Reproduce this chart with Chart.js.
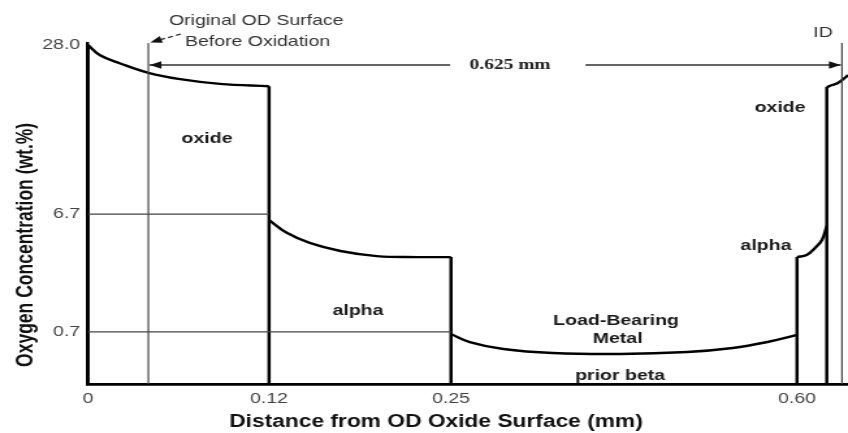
<!DOCTYPE html>
<html>
<head>
<meta charset="utf-8">
<title>Oxygen concentration profile across the cladding wall</title>
<script src="https://cdn.jsdelivr.net/npm/chart.js@4/dist/chart.umd.min.js"></script>
<style>
  html, body { margin: 0; padding: 0; background: #fff; }
</style>
</head>
<body>
<!-- the drawing is made at a narrower width and shown widened -->
<canvas id="profile" width="652" height="433" style="display:block;width:848px;height:433px"></canvas>
<script>
// ---- tick marks -------------------------------------------------------
const xTicks = [0, 0.12, 0.25, 0.60];
const xTickLabels = ['0', '0.12', '0.25', '0.60'];
const yTicks = [0.7, 6.7, 28.0];
const yTickLabels = ['0.7', '6.7', '28.0'];

// ---- oxygen profile (distance in mm, oxygen in wt.%) ------------------
// outer (OD) oxide layer
const odOxideX = [0, 0.008, 0.021, 0.040, 0.061, 0.0875, 0.12];
const odOxideY = [28.0, 26.7, 25.7, 24.5, 23.7, 23.1, 22.8];
// outer oxygen-stabilised alpha layer
const odAlphaX = [0.12, 0.133, 0.149, 0.171, 0.197, 0.226, 0.25];
const odAlphaY = [6.39, 5.73, 5.23, 4.82, 4.56, 4.51, 4.51];
// load-bearing prior-beta metal
const metalX = [0.25, 0.269, 0.303, 0.353, 0.421, 0.489, 0.535, 0.570, 0.60];
const metalY = [0.673, 0.565, 0.471, 0.417, 0.404, 0.431, 0.485, 0.565, 0.66];
// inner alpha layer
const idAlphaX = [0.60, 0.614, 0.626, 0.636, 0.643];
const idAlphaY = [4.51, 4.62, 4.97, 5.38, 6.09];
// inner (ID) oxide layer
const idOxideX = [0.643, 0.651, 0.659, 0.669, 0.674];
const idOxideY = [22.7, 22.96, 23.21, 23.84, 24.22];

// layer boundaries and the profile value reached at each one
const boundaryX = [0, 0.12, 0.25, 0.60, 0.643];
const boundaryTop = [28.0, 22.8, 4.51, 4.51, 22.7];

// reference surfaces (mm)
const odOriginalSurface = 0.04;
const idSurface = 0.665;
const wallThicknessLabel = '0.625 mm';

// region names: [text, distance, oxygen]
const regionNames = [
  ['oxide', 0.0789, 16.15],
  ['alpha', 0.1836, 1.77],
  ['Load-Bearing', 0.4170, 1.26],
  ['Metal', 0.4186, 0.606],
  ['prior beta', 0.421, 0.108],
  ['oxide', 0.5828, 20.06],
  ['alpha', 0.5686, 5.07]
];

// ---- segmented axes: each span between breaks gets its own share ------
const axisBreaks = {
  x: { values: [0, 0.12, 0.25, 0.60, 0.665, 0.674],
       fractions: [0, 0.2382, 0.4776, 0.9329, 0.9921, 1], ticks: xTicks },
  y: { values: [0, 0.7, 6.7, 28.0, 28.25],
       fractions: [0, 0.1525, 0.4985, 0.9941, 1], ticks: yTicks }
};

function piecewise(v, from, to) {
  let i = 1;
  while (i < from.length - 1 && v > from[i]) i++;
  const f0 = from[i - 1], f1 = from[i];
  return to[i - 1] + (v - f0) / (f1 - f0) * (to[i] - to[i - 1]);
}

class SegmentedScale extends Chart.LinearScale {
  static id = 'segmented';
  determineDataLimits() {
    const m = axisBreaks[this.id];
    this.min = m.values[0];
    this.max = m.values[m.values.length - 1];
  }
  buildTicks() {
    return axisBreaks[this.id].ticks.map(value => ({ value }));
  }
  getPixelForValue(value) {
    if (value === null || value === undefined || isNaN(value)) return NaN;
    const m = axisBreaks[this.id];
    return this.getPixelForDecimal(piecewise(value, m.values, m.fractions));
  }
  getValueForPixel(pixel) {
    const m = axisBreaks[this.id];
    return piecewise(this.getDecimalForPixel(pixel), m.fractions, m.values);
  }
}
Chart.register(SegmentedScale);

// ---- datasets ---------------------------------------------------------
const zip = (xs, ys) => xs.map((x, i) => ({ x, y: ys[i] }));
const curve = (xs, ys) => ({
  data: zip(xs, ys), borderColor: '#000', borderWidth: 2.4,
  tension: 0.4, pointRadius: 0
});
const straight = (pts, color, width) => ({
  data: pts, borderColor: color, borderWidth: width, tension: 0, pointRadius: 0
});

const datasets = [
  // thin guide lines
  straight([{ x: 0, y: yTicks[1] }, { x: xTicks[1], y: yTicks[1] }], '#444', 1.25),
  straight([{ x: 0, y: yTicks[0] }, { x: xTicks[2], y: yTicks[0] }], '#444', 1.25),
  straight([{ x: odOriginalSurface, y: 0 }, { x: odOriginalSurface, y: 28.25 }], '#444', 1.2),
  straight([{ x: idSurface, y: 0 }, { x: idSurface, y: 28.25 }], '#444', 1.2),
  // profile
  curve(odOxideX, odOxideY),
  curve(odAlphaX, odAlphaY),
  curve(metalX, metalY),
  curve(idAlphaX, idAlphaY),
  curve(idOxideX, idOxideY),
  ...boundaryX.map((bx, i) =>
    straight([{ x: bx, y: 0 }, { x: bx, y: boundaryTop[i] }], '#000', 2.5))
];

// ---- labels, dimension line and axis titles ---------------------------
const SANS = '"Liberation Sans", Arial, Helvetica, sans-serif';
const SERIF = '"Liberation Serif", "Times New Roman", serif';

function arrowHead(ctx, tipX, tipY, fromX, fromY, len, half) {
  const ang = Math.atan2(tipY - fromY, tipX - fromX);
  ctx.beginPath();
  ctx.moveTo(tipX, tipY);
  ctx.lineTo(tipX - len * Math.cos(ang) + half * Math.sin(ang),
             tipY - len * Math.sin(ang) - half * Math.cos(ang));
  ctx.lineTo(tipX - len * Math.cos(ang) - half * Math.sin(ang),
             tipY - len * Math.sin(ang) + half * Math.cos(ang));
  ctx.closePath();
  ctx.fill();
}

const annotate = {
  id: 'annotate',
  afterDraw(chart) {
    const { ctx, chartArea: a, scales: { x, y } } = chart;
    ctx.save();
    ctx.textAlign = 'center';
    ctx.textBaseline = 'middle';

    // region names
    ctx.fillStyle = '#1a1a1a';
    ctx.font = 'bold 15px ' + SANS;
    regionNames.forEach(([t, vx, vy]) => ctx.fillText(t, x.getPixelForValue(vx), y.getPixelForValue(vy)));

    // original OD surface note with its leader
    const xod = x.getPixelForValue(odOriginalSurface);
    const xid = x.getPixelForValue(idSurface);
    ctx.font = '15px ' + SANS;
    ctx.fillStyle = '#333';
    const noteX = x.getPixelForValue(0.1115);
    ctx.fillText('Original OD Surface', noteX, a.top - 22);
    ctx.fillText('Before Oxidation', noteX + 1, a.top - 1);
    ctx.fillText('ID', x.getPixelForValue(0.6376), a.top - 10);

    ctx.fillStyle = '#111';
    ctx.strokeStyle = '#222';
    const tipX = xod + 1.5, tipY = a.top - 0.5, tailX = xod + 25, tailY = a.top - 9;
    arrowHead(ctx, tipX, tipY, tailX, tailY, 9, 3.6);
    ctx.lineWidth = 1.2;
    ctx.setLineDash([4, 2.5]);
    ctx.beginPath();
    ctx.moveTo(tipX + 8 * 0.94, tipY - 8 * 0.34);
    ctx.lineTo(tailX, tailY);
    ctx.stroke();
    ctx.setLineDash([]);

    // wall thickness dimension line
    const dimY = a.top + 22;
    const textX = x.getPixelForValue(0.3097);
    ctx.strokeStyle = '#333';
    ctx.lineWidth = 1.5;
    ctx.beginPath();
    ctx.moveTo(xod + 1, dimY); ctx.lineTo(textX - 46, dimY);
    ctx.moveTo(textX + 58, dimY); ctx.lineTo(xid - 1, dimY);
    ctx.stroke();
    ctx.fillStyle = '#111';
    arrowHead(ctx, xod + 1, dimY, xod + 20, dimY, 9, 3.8);
    arrowHead(ctx, xid - 1, dimY, xid - 20, dimY, 9, 3.8);
    ctx.font = 'bold 15px ' + SERIF;
    ctx.fillStyle = '#222';
    ctx.fillText(wallThicknessLabel, textX, dimY);

    // axis titles
    ctx.fillStyle = '#111';
    ctx.font = 'bold 17.5px ' + SANS;
    ctx.fillText('Distance from OD Oxide Surface (mm)', (a.left + a.right) / 2 - 24.6, 422);
    ctx.save();
    ctx.translate(a.left - 47.7, a.top + 0.592 * (a.bottom - a.top));
    ctx.rotate(-Math.PI / 2);
    ctx.fillText('Oxygen Concentration (wt.%)', 0, 0);
    ctx.restore();

    ctx.restore();
  }
};

Chart.defaults.font.family = SANS;

new Chart(document.getElementById('profile'), {
  type: 'line',
  data: { datasets },
  options: {
    responsive: false,
    maintainAspectRatio: false,
    devicePixelRatio: 1,
    animation: false,
    events: [],
    layout: { padding: { top: 43, right: 0, bottom: 0, left: 0 } },
    plugins: { legend: { display: false }, tooltip: { enabled: false } },
    elements: { line: { borderCapStyle: 'butt', borderJoinStyle: 'miter' } },
    scales: {
      x: {
        type: 'segmented',
        position: 'bottom',
        grid: { display: false, drawTicks: false },
        border: { display: true, color: '#000', width: 2.7 },
        ticks: {
          autoSkip: false, maxRotation: 0, padding: 6,
          color: '#444', font: { size: 15 },
          callback: (v, i) => xTickLabels[i]
        },
        afterFit: s => { s.height = 49; s.paddingLeft = 0; s.paddingRight = 0; }
      },
      y: {
        type: 'segmented',
        position: 'left',
        grid: { display: false, drawTicks: false },
        border: { display: true, color: '#000', width: 2.5 },
        ticks: {
          autoSkip: false, padding: 6,
          color: '#444', font: { size: 15 },
          callback: (v, i) => yTickLabels[i]
        },
        afterFit: s => { s.width = 67.66; s.paddingTop = 0; s.paddingBottom = 0; }
      }
    }
  },
  plugins: [annotate]
});
</script>
</body>
</html>
